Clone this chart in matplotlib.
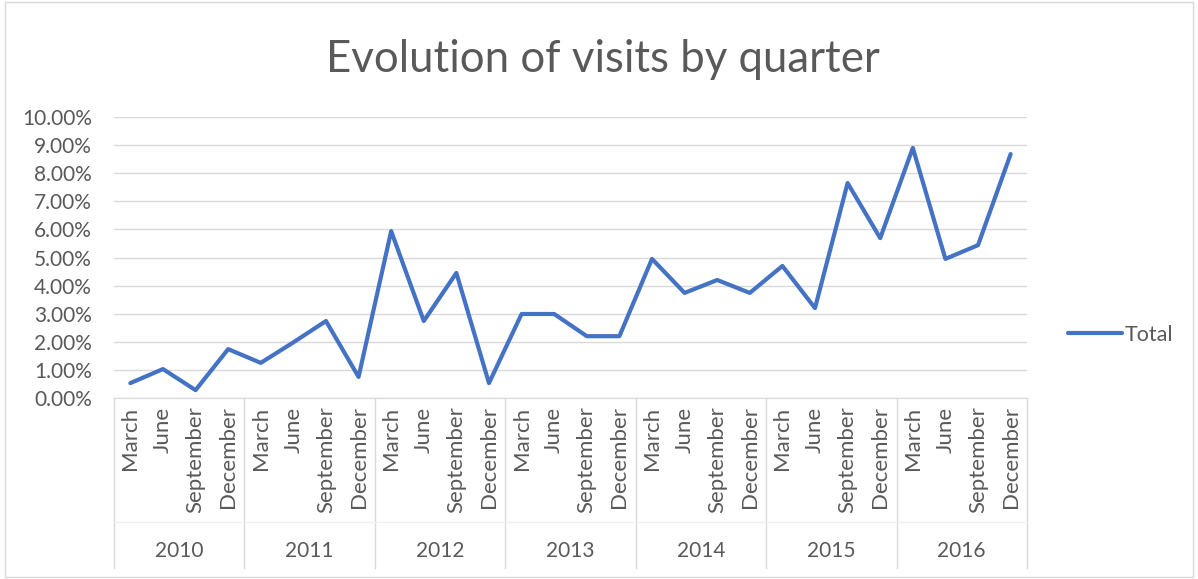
import matplotlib.pyplot as plt
from matplotlib.ticker import PercentFormatter, MultipleLocator
from matplotlib.patches import Rectangle

plt.rcParams['font.family'] = ['Lato', 'DejaVu Sans']

years = ['2010', '2011', '2012', '2013', '2014', '2015', '2016']
months = ['March', 'June', 'September', 'December']
# share of visits per quarter, in percent
total = [0.53, 1.03, 0.28, 1.74,
         1.25, 1.98, 2.74, 0.75,
         5.94, 2.74, 4.45, 0.53,
         2.99, 2.99, 2.20, 2.20,
         4.95, 3.74, 4.20, 3.74,
         4.70, 3.20, 7.65, 5.69,
         8.90, 4.95, 5.44, 8.68]

grey = '#595959'
fig = plt.figure(figsize=(11.98, 5.79), dpi=100)
fig.patches.append(Rectangle((0.004, 0.004), 0.992, 0.992, transform=fig.transFigure,
                             fill=False, edgecolor='#d9d9d9', linewidth=1))
ax = fig.add_axes([0.0952, 0.3126, 0.762, 0.4853])

x = list(range(len(total)))
ax.plot(x, total, color='#4472C4', linewidth=3, solid_joinstyle='round',
        solid_capstyle='round', label='Total', zorder=3)

ax.set_xlim(-0.5, len(total) - 0.5)
ax.set_ylim(0, 10)
ax.yaxis.set_major_locator(MultipleLocator(1))
ax.yaxis.set_major_formatter(PercentFormatter(decimals=2))
ax.grid(axis='y', color='#d9d9d9', linewidth=1)
ax.set_axisbelow(True)
for s in ['top', 'right', 'left']:
    ax.spines[s].set_visible(False)
ax.spines['bottom'].set_color('#d9d9d9')
ax.tick_params(axis='y', length=0, pad=16, labelsize=15, labelcolor=grey)
ax.set_xticks([])

tr = ax.get_xaxis_transform()
for i in x:
    ax.text(i, -0.03, months[i % 4], rotation=90, ha='center', va='top',
            transform=tr, fontsize=16, color=grey)
for k, yr in enumerate(years):
    ax.text(4 * k + 1.5, -0.545, yr, ha='center', va='center',
            transform=tr, fontsize=15, color=grey)
for k in range(len(years) + 1):
    ax.plot([4 * k - 0.5] * 2, [0, -0.605], transform=tr, color='#d9d9d9',
            linewidth=1, clip_on=False)
ax.plot([-0.5, len(total) - 0.5], [-0.441, -0.441], transform=tr,
        color='#f0f0f0', linewidth=1, clip_on=False)

fig.text(0.503, 0.898, 'Evolution of visits by quarter', ha='center', va='center',
         fontsize=31.5, color=grey)

fig.legend(loc='center left', bbox_to_anchor=(1049 / 1198, 1 - 335 / 579),
           frameon=False, handlelength=2.5, handletextpad=0.1, fontsize=15.5,
           labelcolor=grey)

fig.savefig('out.png', dpi=100)
